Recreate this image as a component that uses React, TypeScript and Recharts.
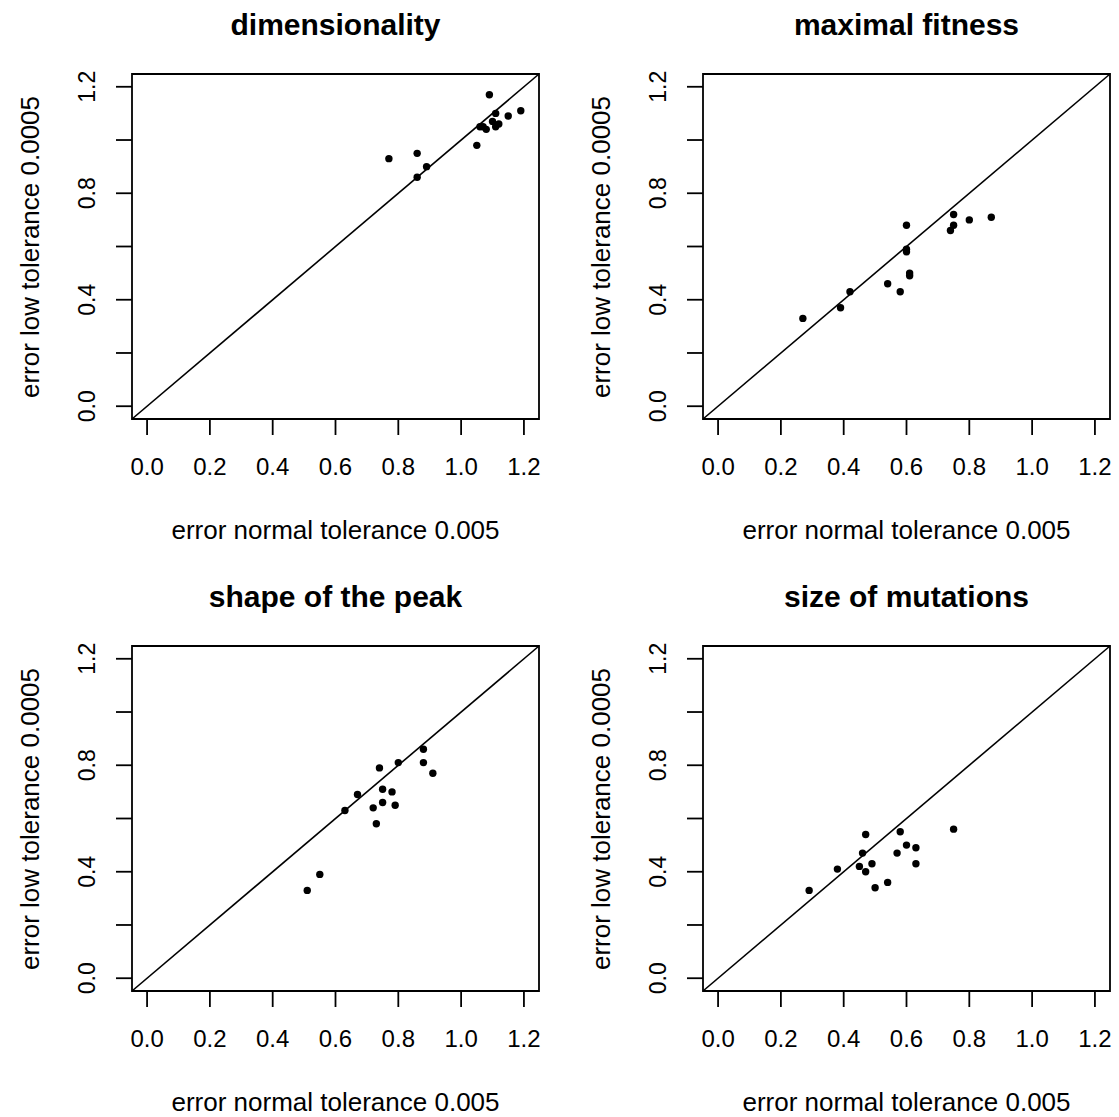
import React from 'react';
import { ScatterChart, Scatter, XAxis, YAxis, ReferenceLine, ReferenceArea } from 'recharts';

// values (x = normal tolerance, y = low tolerance)
const dimNormal = [0.77, 0.86, 0.89, 0.86, 1.05, 1.09, 1.07, 1.08, 1.10, 1.11, 1.11, 1.12, 1.15, 1.19, 1.06];
const dimLow = [0.93, 0.95, 0.90, 0.86, 0.98, 1.17, 1.05, 1.04, 1.07, 1.10, 1.05, 1.06, 1.09, 1.11, 1.05];

const fitNormal = [0.27, 0.39, 0.42, 0.54, 0.58, 0.60, 0.60, 0.60, 0.61, 0.61, 0.74, 0.75, 0.75, 0.80, 0.87];
const fitLow = [0.33, 0.37, 0.43, 0.46, 0.43, 0.68, 0.59, 0.58, 0.50, 0.49, 0.66, 0.72, 0.68, 0.70, 0.71];

const peakNormal = [0.51, 0.55, 0.63, 0.67, 0.72, 0.73, 0.74, 0.75, 0.75, 0.78, 0.79, 0.80, 0.88, 0.88, 0.91];
const peakLow = [0.33, 0.39, 0.63, 0.69, 0.64, 0.58, 0.79, 0.71, 0.66, 0.70, 0.65, 0.81, 0.86, 0.81, 0.77];

const mutNormal = [0.29, 0.38, 0.45, 0.46, 0.47, 0.47, 0.49, 0.50, 0.54, 0.57, 0.58, 0.60, 0.63, 0.63, 0.75];
const mutLow = [0.33, 0.41, 0.42, 0.47, 0.54, 0.40, 0.43, 0.34, 0.36, 0.47, 0.55, 0.50, 0.49, 0.43, 0.56];

const ticks = [0, 0.2, 0.4, 0.6, 0.8, 1.0, 1.2];
const xTickLabels = ['0.0', '0.2', '0.4', '0.6', '0.8', '1.0', '1.2'];
const yTickLabels = ['0.0', '', '0.4', '', '0.8', '', '1.2'];

const titles = ['dimensionality', 'maximal fitness', 'shape of the peak', 'size of mutations'];
const xTitle = 'error normal tolerance 0.005';
const yTitle = 'error low tolerance 0.0005';

const panels = [
  { title: titles[0], xs: dimNormal, ys: dimLow, ox: 0, oy: 0 },
  { title: titles[1], xs: fitNormal, ys: fitLow, ox: 571, oy: 0 },
  { title: titles[2], xs: peakNormal, ys: peakLow, ox: 0, oy: 572 },
  { title: titles[3], xs: mutNormal, ys: mutLow, ox: 571, oy: 572 },
];

// R pads the 0..1.2 range by 4% on each side
const lo = -0.048;
const hi = 1.248;

const font = '"Liberation Sans", Arial, Helvetica, sans-serif';

// plot box inside each chart
const boxLeft = 132;
const boxTop = 74;
const boxW = 407;
const boxH = 345;

const XTick = (props: any) => {
  const { x, y, payload } = props;
  const i = ticks.indexOf(payload.value);
  return (
    <text x={x} y={y} dy="0.71em" textAnchor="middle" fontSize={24} fontFamily={font} fill="#000">
      {xTickLabels[i]}
    </text>
  );
};

const YTick = (props: any) => {
  const { x, y, payload } = props;
  const i = ticks.indexOf(payload.value);
  const label = yTickLabels[i];
  if (!label) return <g />;
  return (
    <text
      x={x}
      y={y}
      transform={`rotate(-90 ${x} ${y})`}
      textAnchor="middle"
      fontSize={23}
      fontFamily={font}
      fill="#000"
    >
      {label}
    </text>
  );
};

const Dot = (p: any) => <circle cx={p.cx} cy={p.cy} r={3.7} fill="#000" />;

const Panel = ({ title, xs, ys, ox, oy }: any) => {
  const points = xs.map((x: number, i: number) => ({ x, y: ys[i] }));
  return (
    <>
      <div style={{ position: 'absolute', left: ox, top: oy }}>
        <ScatterChart width={548} height={500} margin={{ top: boxTop, left: 32, right: 9, bottom: 21 }}>
          <XAxis
            type="number"
            dataKey="x"
            domain={[lo, hi]}
            ticks={ticks}
            allowDataOverflow
            height={60}
            axisLine={false}
            tickSize={16}
            tickMargin={23}
            tickLine={{ stroke: '#000', strokeWidth: 1.8 }}
            tick={<XTick />}
            interval={0}
          />
          <YAxis
            type="number"
            dataKey="y"
            domain={[lo, hi]}
            ticks={ticks}
            allowDataOverflow
            width={100}
            axisLine={false}
            tickSize={16}
            tickMargin={21}
            tickLine={{ stroke: '#000', strokeWidth: 1.8 }}
            tick={<YTick />}
            interval={0}
          />
          <ReferenceLine
            segment={[{ x: lo, y: lo }, { x: hi, y: hi }]}
            stroke="#000"
            strokeWidth={1.6}
            ifOverflow="visible"
          />
          <Scatter data={points} shape={<Dot />} isAnimationActive={false} />
          <ReferenceArea
            x1={lo}
            x2={hi}
            y1={lo}
            y2={hi}
            fill="none"
            stroke="#000"
            strokeWidth={1.8}
            ifOverflow="visible"
          />
        </ScatterChart>
      </div>
      <div
        style={{
          position: 'absolute',
          left: ox + boxLeft,
          top: oy + 5,
          width: boxW,
          height: 40,
          lineHeight: '40px',
          textAlign: 'center',
          fontFamily: font,
          fontWeight: 'bold',
          fontSize: 30,
        }}
      >
        {title}
      </div>
      <div
        style={{
          position: 'absolute',
          left: ox + boxLeft - 40,
          top: oy + 512,
          width: boxW + 80,
          height: 36,
          lineHeight: '36px',
          textAlign: 'center',
          fontFamily: font,
          fontSize: 26,
        }}
      >
        {xTitle}
      </div>
      <div
        style={{
          position: 'absolute',
          left: ox + 29 - (boxH + 60) / 2,
          top: oy + boxTop + boxH / 2 - 18,
          width: boxH + 60,
          height: 36,
          lineHeight: '36px',
          textAlign: 'center',
          fontFamily: font,
          fontSize: 26,
          transform: 'rotate(-90deg)',
        }}
      >
        {yTitle}
      </div>
    </>
  );
};

export default function App() {
  return (
    <div
      style={{
        position: 'absolute',
        left: 0,
        top: 0,
        width: 1119,
        height: 1117,
        background: '#fff',
        overflow: 'hidden',
      }}
    >
      {panels.map((p) => (
        <Panel key={p.title} {...p} />
      ))}
    </div>
  );
}
